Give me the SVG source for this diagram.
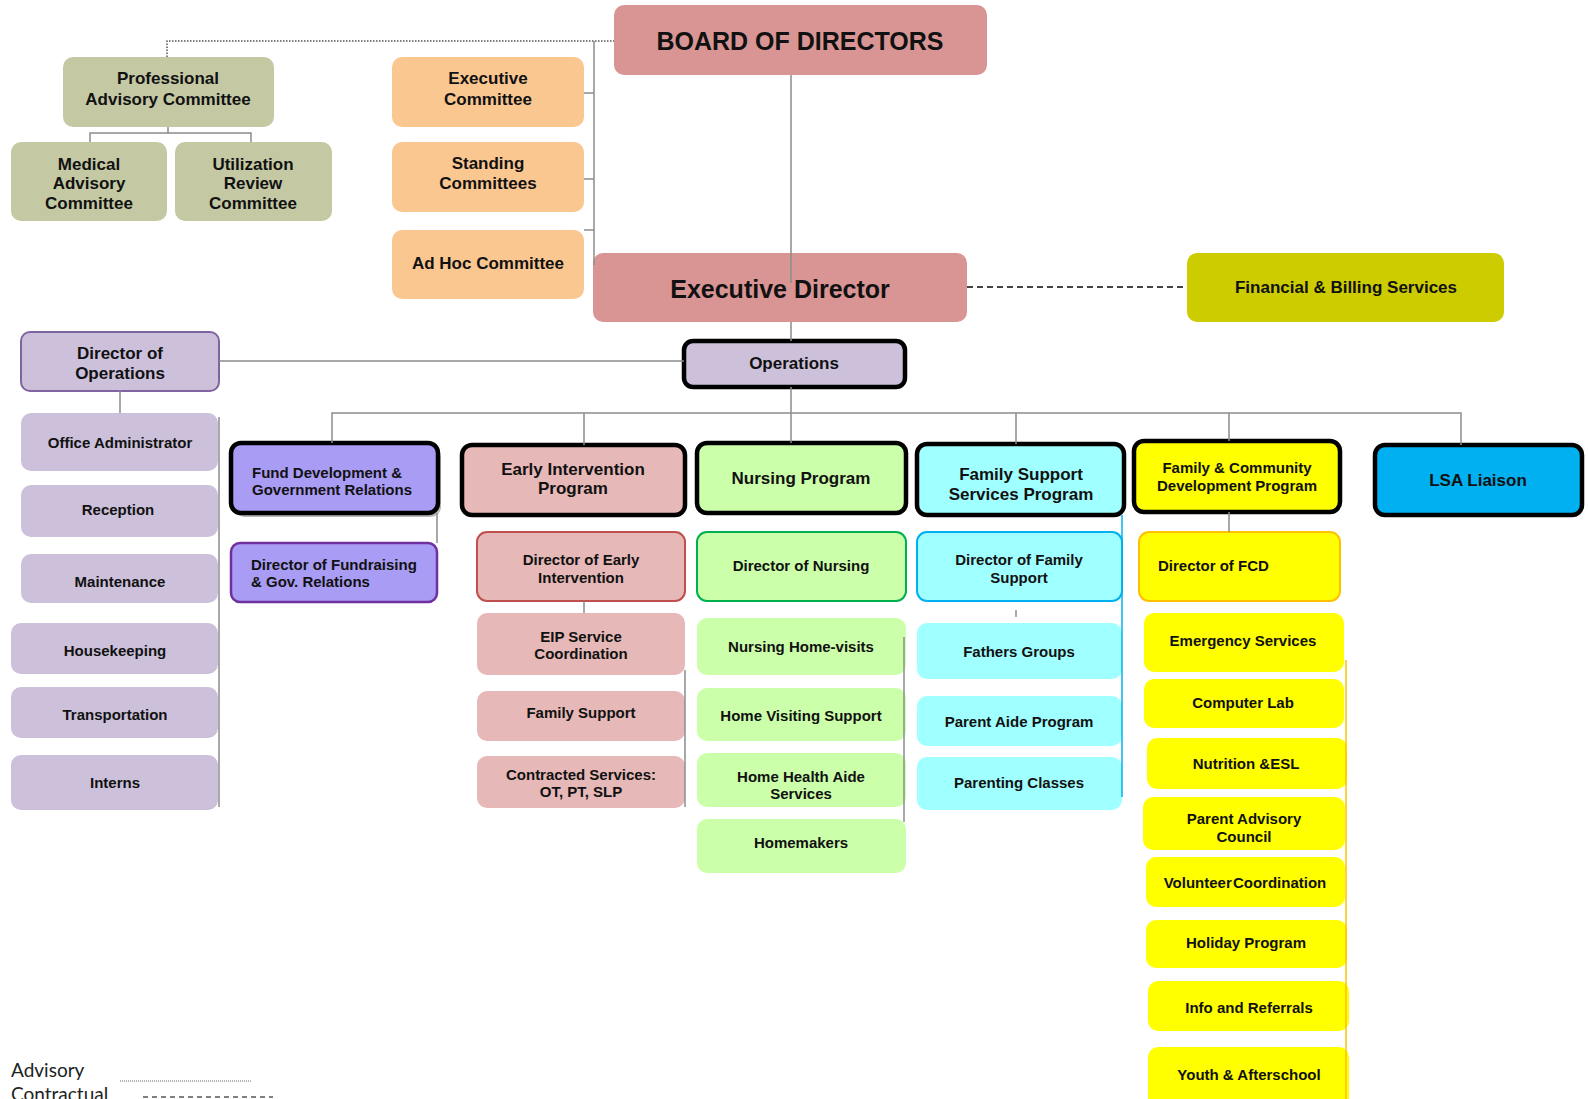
<svg xmlns="http://www.w3.org/2000/svg" width="1588" height="1099" viewBox="0 0 1588 1099">
<style>
text{font-family:"Liberation Sans",Arial,sans-serif;font-weight:bold;fill:#111;text-anchor:middle;dominant-baseline:central}
.s17{font-size:17px}.s15{font-size:15px}.s25{font-size:25px}
.l{text-anchor:start}
.c{stroke:#8c8c8c;stroke-width:1.5;fill:none}
.thick{stroke:#000;stroke-width:4.5}
.sage{fill:#c4c9a4}.org{fill:#fac791}.pink{fill:#d99594}.lav{fill:#ccc0da}.ei{fill:#e6b8b7}.nur{fill:#ccffaa}.fss{fill:#a0ffff}.fcd{fill:#ffff00}.fund{fill:#a99cf5}
.leg{font-family:Lato,"Liberation Sans",sans-serif;font-weight:normal;font-size:19px;fill:#222;text-anchor:start;dominant-baseline:auto}
</style>
<rect width="1588" height="1099" fill="#fff"/>
<g id="nodes">
<g id="board"><rect class="pink" x="614" y="5" width="373" height="70" rx="10"/><text class="s25" x="800" y="41">BOARD OF DIRECTORS</text></g>
<g id="pac"><rect class="sage" x="63" y="57" width="211" height="70" rx="10"/><text class="s17" x="168" y="78">Professional</text><text class="s17" x="168" y="99">Advisory Committee</text></g>
<g id="medical"><rect class="sage" x="11" y="142" width="156" height="79" rx="10"/><text class="s17" x="89" y="164">Medical</text><text class="s17" x="89" y="183">Advisory</text><text class="s17" x="89" y="203">Committee</text></g>
<g id="utilization"><rect class="sage" x="175" y="142" width="157" height="79" rx="10"/><text class="s17" x="253" y="164">Utilization</text><text class="s17" x="253" y="183">Review</text><text class="s17" x="253" y="203">Committee</text></g>
<g id="execcom"><rect class="org" x="392" y="57" width="192" height="70" rx="10"/><text class="s17" x="488" y="78">Executive</text><text class="s17" x="488" y="99">Committee</text></g>
<g id="standing"><rect class="org" x="392" y="142" width="192" height="70" rx="10"/><text class="s17" x="488" y="163">Standing</text><text class="s17" x="488" y="183">Committees</text></g>
<g id="adhoc"><rect class="org" x="392" y="230" width="192" height="69" rx="10"/><text class="s17" x="488" y="263">Ad Hoc Committee</text></g>
<g id="execdir"><rect class="pink" x="593" y="253" width="374" height="69" rx="10"/><text class="s25" x="780" y="289">Executive Director</text></g>
<g id="financial"><rect fill="#cccc00" x="1187" y="253" width="317" height="69" rx="10"/><text class="s17" x="1346" y="287">Financial &amp; Billing Services</text></g>
<g id="dirops"><rect class="lav" stroke="#8064a2" stroke-width="2" x="21" y="332" width="198" height="59" rx="9"/><text class="s17" x="120" y="353">Director of</text><text class="s17" x="120" y="373">Operations</text></g>
<g id="operations"><rect class="lav thick" x="684" y="341" width="221" height="46" rx="9"/><text class="s17" x="794" y="363">Operations</text></g>
<g id="officeadmin"><rect class="lav" x="21" y="413" width="197" height="58" rx="10"/><text class="s15" x="120" y="442">Office Administrator</text></g>
<g id="reception"><rect class="lav" x="21" y="485" width="197" height="52" rx="10"/><text class="s15" x="118" y="509">Reception</text></g>
<g id="maintenance"><rect class="lav" x="21" y="554" width="197" height="49" rx="10"/><text class="s15" x="120" y="581">Maintenance</text></g>
<g id="housekeeping"><rect class="lav" x="11" y="623" width="207" height="51" rx="10"/><text class="s15" x="115" y="650">Housekeeping</text></g>
<g id="transportation"><rect class="lav" x="11" y="687" width="207" height="51" rx="10"/><text class="s15" x="115" y="714">Transportation</text></g>
<g id="interns"><rect class="lav" x="11" y="755" width="207" height="55" rx="10"/><text class="s15" x="115" y="782">Interns</text></g>
<g id="funddev"><rect fill="#b8b8b8" x="234" y="447" width="207" height="70" rx="10"/><rect class="fund thick" x="231" y="443" width="207" height="70" rx="10"/><text class="s15 l" x="252" y="472">Fund Development &amp;</text><text class="s15 l" x="252" y="489">Government Relations</text></g>
<g id="dirfund"><rect class="fund" stroke="#7030a0" stroke-width="2.5" x="231" y="543" width="206" height="59" rx="9"/><text class="s15 l" x="251" y="564">Director of Fundraising</text><text class="s15 l" x="251" y="581">&amp; Gov. Relations</text></g>
<g id="eiprogram"><rect class="ei thick" x="462" y="445" width="223" height="70" rx="10"/><text class="s17" x="573" y="469">Early Intervention</text><text class="s17" x="573" y="488">Program</text></g>
<g id="direi"><rect class="ei" stroke="#c0504d" stroke-width="2" x="477" y="532" width="208" height="69" rx="10"/><text class="s15" x="581" y="559">Director of Early</text><text class="s15" x="581" y="577">Intervention</text></g>
<g id="eipservice"><rect class="ei" x="477" y="613" width="208" height="62" rx="10"/><text class="s15" x="581" y="636">EIP Service</text><text class="s15" x="581" y="653">Coordination</text></g>
<g id="eifamily"><rect class="ei" x="477" y="691" width="208" height="50" rx="10"/><text class="s15" x="581" y="712">Family Support</text></g>
<g id="contracted"><rect class="ei" x="477" y="756" width="208" height="52" rx="10"/><text class="s15" x="581" y="774">Contracted Services:</text><text class="s15" x="581" y="791">OT, PT, SLP</text></g>
<g id="nursing"><rect class="nur thick" x="697" y="443" width="209" height="70" rx="10"/><text class="s17" x="801" y="478">Nursing Program</text></g>
<g id="dirnursing"><rect class="nur" stroke="#00b050" stroke-width="2" x="697" y="532" width="209" height="69" rx="10"/><text class="s15" x="801" y="565">Director of Nursing</text></g>
<g id="nhv"><rect class="nur" x="697" y="618" width="209" height="57" rx="10"/><text class="s15" x="801" y="646">Nursing Home-visits</text></g>
<g id="hvs"><rect class="nur" x="697" y="688" width="209" height="53" rx="10"/><text class="s15" x="801" y="715">Home Visiting Support</text></g>
<g id="hha"><rect class="nur" x="697" y="753" width="209" height="54" rx="10"/><text class="s15" x="801" y="776">Home Health Aide</text><text class="s15" x="801" y="793">Services</text></g>
<g id="homemakers"><rect class="nur" x="697" y="819" width="209" height="54" rx="10"/><text class="s15" x="801" y="842">Homemakers</text></g>
<g id="fss"><rect class="fss thick" x="917" y="444" width="207" height="71" rx="10"/><text class="s17" x="1021" y="474">Family Support</text><text class="s17" x="1021" y="494">Services Program</text></g>
<g id="dirfs"><rect class="fss" stroke="#00b0f0" stroke-width="2" x="917" y="532" width="205" height="69" rx="10"/><text class="s15" x="1019" y="559">Director of Family</text><text class="s15" x="1019" y="577">Support</text></g>
<g id="fathers"><rect class="fss" x="917" y="623" width="205" height="56" rx="10"/><text class="s15" x="1019" y="651">Fathers Groups</text></g>
<g id="parentaide"><rect class="fss" x="917" y="696" width="205" height="50" rx="10"/><text class="s15" x="1019" y="721">Parent Aide Program</text></g>
<g id="parenting"><rect class="fss" x="917" y="757" width="205" height="53" rx="10"/><text class="s15" x="1019" y="782">Parenting Classes</text></g>
<g id="fcd"><rect class="fcd thick" x="1134" y="441" width="206" height="71" rx="10"/><text class="s15" x="1237" y="467">Family &amp; Community</text><text class="s15" x="1237" y="485">Development Program</text></g>
<g id="dirfcd"><rect class="fcd" stroke="#ffc000" stroke-width="2" x="1139" y="532" width="201" height="69" rx="10"/><text class="s15 l" x="1158" y="565">Director of FCD</text></g>
<g id="emergency"><rect class="fcd" x="1144" y="613" width="200" height="59" rx="10"/><text class="s15" x="1243" y="640">Emergency Services</text></g>
<g id="computer"><rect class="fcd" x="1144" y="679" width="200" height="49" rx="10"/><text class="s15" x="1243" y="702">Computer Lab</text></g>
<g id="nutrition"><rect class="fcd" x="1147" y="738" width="200" height="51" rx="10"/><text class="s15" x="1246" y="763">Nutrition &amp;ESL</text></g>
<g id="parentadv"><rect class="fcd" x="1143" y="797" width="202" height="53" rx="10"/><text class="s15" x="1244" y="818">Parent Advisory</text><text class="s15" x="1244" y="836">Council</text></g>
<g id="volunteer"><rect class="fcd" x="1146" y="857" width="199" height="50" rx="10"/><text class="s15" x="1245" y="882" word-spacing="-3">Volunteer Coordination</text></g>
<g id="holiday"><rect class="fcd" x="1146" y="920" width="201" height="48" rx="10"/><text class="s15" x="1246" y="942">Holiday Program</text></g>
<g id="info"><rect class="fcd" x="1148" y="981" width="201" height="50" rx="10"/><text class="s15" x="1249" y="1007">Info and Referrals</text></g>
<g id="youth"><rect class="fcd" x="1148" y="1047" width="201" height="60" rx="10"/><text class="s15" x="1249" y="1074">Youth &amp; Afterschool</text></g>
<g id="lsa"><rect fill="#00b0f0" class="thick" x="1375" y="445" width="207" height="70" rx="10"/><text class="s17" x="1478" y="480">LSA Liaison</text></g>
</g>
<g id="connectors">
<path d="M167,57 V41 H614" fill="none" stroke="#555" stroke-width="1.5" stroke-dasharray="1.5 1.5"/>
<path class="c" d="M168,127 V133 M90,142 V133 H251 V142"/>
<path class="c" d="M594,41 V265 M584,93 H594 M584,179 H594 M584,230 H594"/>
<path class="c" d="M791,75 V283 M791,322 V341 M791,387 V443"/>
<path d="M967,287 H1187" fill="none" stroke="#444" stroke-width="2" stroke-dasharray="6 4"/>
<path class="c" d="M219,361 H684 M120,391 V413 M219,417 V807"/>
<path class="c" d="M332,443 V413 H1461 V445 M584,413 V445 M1016,413 V444 M1229,413 V441"/>
<path class="c" d="M437,513 V543"/>
<path class="c" d="M584,601 V613 M685,670 V807"/>
<path class="c" d="M904,637 V822"/>
<path class="c" d="M1016,610 V617"/>
<path d="M1122,515 V797" fill="none" stroke="#00b0f0" stroke-width="1.5"/>
<path class="c" d="M1229,512 V532"/>
<path d="M1346,660 V1099" fill="none" stroke="#ffc000" stroke-width="1.5"/>
</g>
<g id="legend">
<text class="leg" x="11" y="1077">Advisory</text>
<text class="leg" x="11" y="1101">Contractual</text>
<path d="M120,1081 H252" fill="none" stroke="#666" stroke-width="1" stroke-dasharray="1 1"/>
<path d="M143,1097 H273" fill="none" stroke="#555" stroke-width="1.5" stroke-dasharray="5 4"/>
</g>
</svg>
